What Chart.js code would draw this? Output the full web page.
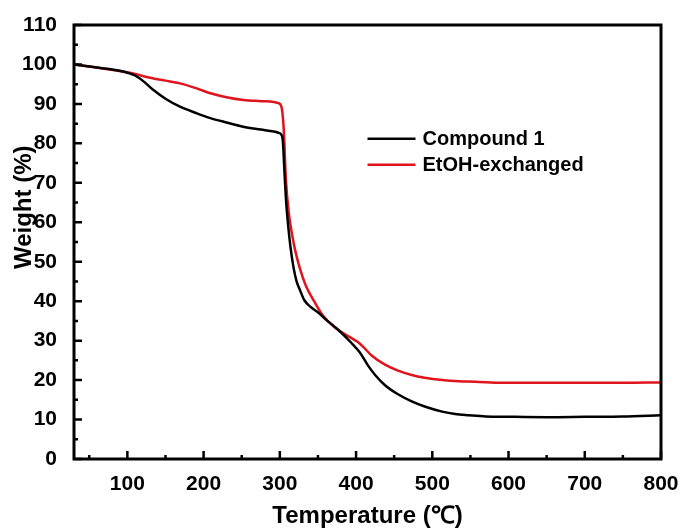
<!DOCTYPE html>
<html>
<head>
<meta charset="utf-8">
<script src="https://cdn.jsdelivr.net/npm/chart.js@4/dist/chart.umd.min.js"></script>
<style>
  html, body { margin: 0; padding: 0; background: #fff; }
  #wrap { width: 684px; height: 531px; }
</style>
</head>
<body>
<div id="wrap"><canvas id="tga"></canvas></div>
<script>
const seriesNames = ['Compound 1', 'EtOH-exchanged'];
const seriesColors = ['#000000', '#e0141c'];

const tempCompound = [30, 60, 90, 100, 110, 120, 133, 150, 169, 190, 209, 230, 252, 275, 292, 298, 302, 304, 306, 308, 311, 314, 318, 322, 326, 332, 340, 351, 360, 375, 394, 405, 416, 425, 438, 455, 473, 490, 513, 530, 548, 570, 600, 650, 700, 750, 800];
const weightCompound = [100, 99.2, 98.4, 97.9, 97.2, 95.9, 93.7, 91.3, 89.3, 87.7, 86.4, 85.3, 84.2, 83.5, 83.0, 82.7, 82.2, 80.5, 73, 66, 59, 53.7, 48.5, 45, 43, 40.3, 38.6, 37, 35.4, 33, 29.4, 27, 23.6, 21.3, 18.7, 16.4, 14.6, 13.3, 12, 11.4, 11.1, 10.8, 10.7, 10.6, 10.7, 10.8, 11.1];

const tempEtoh = [30, 60, 100, 133, 150, 169, 190, 209, 230, 252, 275, 292, 298, 302, 305, 308, 312, 316, 320, 326, 334, 345, 356, 371, 390, 402, 410, 420, 438, 455, 473, 490, 513, 535, 556, 592, 650, 700, 750, 800];
const weightEtoh = [100, 99.2, 98, 96.5, 95.9, 95.2, 94, 92.7, 91.7, 91, 90.7, 90.5, 90.2, 89.4, 84, 70.7, 62, 57, 53, 48.5, 44, 40, 36.5, 33.5, 31.1, 29.7, 28.3, 26.3, 23.9, 22.4, 21.3, 20.6, 20, 19.7, 19.6, 19.3, 19.3, 19.3, 19.3, 19.4];

const xTicks = [100, 200, 300, 400, 500, 600, 700, 800];
const yTicks = [0, 10, 20, 30, 40, 50, 60, 70, 80, 90, 100, 110];

function toPoints(xs, ys) {
  return xs.map((x, i) => ({ x: x, y: ys[i] }));
}

const FONT = 'Liberation Sans, Arial, sans-serif';

// frame, inward ticks, axis titles and legend
const decor = {
  id: 'decor',
  afterDraw(chart) {
    const ctx = chart.ctx;
    const a = chart.chartArea;
    const xs = chart.scales.x, ys = chart.scales.y;
    ctx.save();
    ctx.strokeStyle = '#000';
    ctx.lineWidth = 2.5;
    ctx.lineCap = 'butt';
    // ticks
    ctx.beginPath();
    xTicks.forEach(v => {
      const px = xs.getPixelForValue(v);
      ctx.moveTo(px, a.bottom); ctx.lineTo(px, a.bottom - 8);
      const m = v - 50;
      if (m > xs.min) {
        const mx = xs.getPixelForValue(m);
        ctx.moveTo(mx, a.bottom); ctx.lineTo(mx, a.bottom - 4);
      }
    });
    yTicks.forEach(v => {
      const py = ys.getPixelForValue(v);
      ctx.moveTo(a.left, py); ctx.lineTo(a.left + 8, py);
      if (v > 0) {
        const my = ys.getPixelForValue(v - 5);
        ctx.moveTo(a.left, my); ctx.lineTo(a.left + 4, my);
      }
    });
    ctx.stroke();
    // frame
    ctx.lineWidth = 3;
    ctx.strokeRect(a.left, a.top, a.right - a.left, a.bottom - a.top);

    // axis titles
    ctx.fillStyle = '#000';
    ctx.font = 'bold 24px ' + FONT;
    ctx.textAlign = 'center';
    ctx.textBaseline = 'alphabetic';
    ctx.fillText('Temperature (\u2103)', (a.left + a.right) / 2, 523);
    ctx.save();
    ctx.translate(31, a.top + (a.bottom - a.top) * 0.42);
    ctx.rotate(-Math.PI / 2);
    ctx.fillText('Weight (%)', 0, 0);
    ctx.restore();

    // legend
    const lx = a.left + (a.right - a.left) * 0.50;
    const ly = a.top + (a.bottom - a.top) * 0.262;
    ctx.font = 'bold 20px ' + FONT;
    ctx.textAlign = 'left';
    ctx.textBaseline = 'middle';
    seriesNames.forEach((name, i) => {
      const y = ly + i * 26;
      ctx.strokeStyle = seriesColors[i];
      ctx.lineWidth = 2.5;
      ctx.beginPath();
      ctx.moveTo(lx, y); ctx.lineTo(lx + 48, y);
      ctx.stroke();
      ctx.fillText(name, lx + 55, y + 1);
    });
    ctx.restore();
  }
};

new Chart(document.getElementById('tga').getContext('2d'), {
  type: 'scatter',
  data: {
    datasets: [
      {
        label: seriesNames[0],
        data: toPoints(tempCompound, weightCompound),
        borderColor: seriesColors[0],
        borderWidth: 2.5,
        showLine: true,
        pointRadius: 0,
        cubicInterpolationMode: 'monotone'
      },
      {
        label: seriesNames[1],
        data: toPoints(tempEtoh, weightEtoh),
        borderColor: seriesColors[1],
        borderWidth: 2.5,
        showLine: true,
        pointRadius: 0,
        cubicInterpolationMode: 'monotone'
      }
    ]
  },
  options: {
    responsive: true,
    maintainAspectRatio: false,
    animation: false,
    layout: { padding: { left: 0, top: 25, right: 23, bottom: 0 } },
    plugins: { legend: { display: false }, tooltip: { enabled: false } },
    scales: {
      x: {
        type: 'linear',
        min: 30,
        max: 800,
        afterBuildTicks: s => { s.ticks = xTicks.map(v => ({ value: v })); },
        afterFit: s => { s.height = 72; },
        grid: { display: false },
        border: { display: false },
        ticks: { color: '#000', padding: 5, font: { family: FONT, size: 21, weight: 'bold' } }
      },
      y: {
        min: 0,
        max: 110,
        afterBuildTicks: s => { s.ticks = yTicks.map(v => ({ value: v })); },
        afterFit: s => { s.width = 74; },
        grid: { display: false },
        border: { display: false },
        ticks: { color: '#000', padding: 9, font: { family: FONT, size: 21, weight: 'bold' } }
      }
    }
  },
  plugins: [decor]
});
</script>
</body>
</html>
